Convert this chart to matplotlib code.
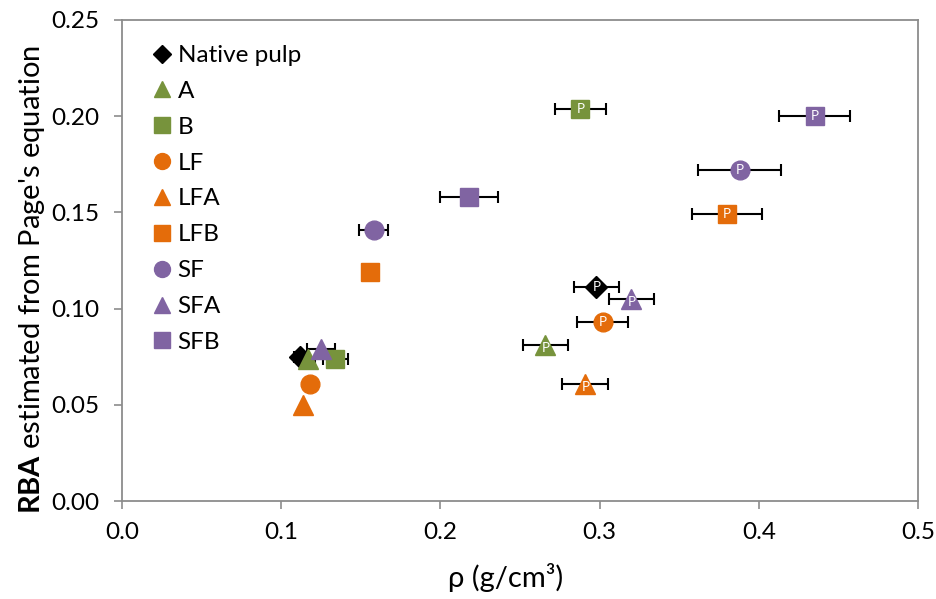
import matplotlib
matplotlib.use("Agg")
import matplotlib.pyplot as plt

plt.rcParams['font.family'] = ['Lato', 'DejaVu Sans']
plt.rcParams['mathtext.fontset'] = 'custom'
plt.rcParams['mathtext.bf'] = 'Lato:bold'
plt.rcParams['mathtext.rm'] = 'Lato'

series = ["Native pulp", "A", "B", "LF", "LFA", "LFB", "SF", "SFA", "SFB"]
colors = ["#000000", "#77933C", "#77933C", "#E46C0A", "#E46C0A", "#E46C0A", "#8064A2", "#8064A2", "#8064A2"]
markers = ["D", "^", "s", "o", "^", "s", "o", "^", "s"]

# unpressed samples
x_raw = [0.112, 0.117, 0.134, 0.118, 0.114, 0.156, 0.158, 0.125, 0.218]
y_raw = [0.075, 0.074, 0.074, 0.061, 0.050, 0.119, 0.141, 0.079, 0.158]
xerr_raw = [0.004, 0.004, 0.008, 0.0, 0.0, 0.0, 0.009, 0.009, 0.018]

# pressed samples (P)
x_p = [0.298, 0.266, 0.288, 0.302, 0.291, 0.380, 0.388, 0.320, 0.435]
y_p = [0.111, 0.081, 0.204, 0.093, 0.061, 0.149, 0.172, 0.105, 0.200]
xerr_p = [0.014, 0.014, 0.016, 0.016, 0.0145, 0.022, 0.026, 0.014, 0.022]

sizes = {"D": 11, "^": 14, "s": 13.5, "o": 13.5}

fig = plt.figure(figsize=(9.36, 5.99), dpi=100)
ax = fig.add_axes([122/936, 1-501/599, (918-122)/936, (501-20)/599])

order = [0, 1, 2, 3, 4, 5, 6, 8, 7]
for i in order:
    ms = sizes[markers[i]]
    if xerr_raw[i] > 0:
        ax.errorbar(x_raw[i], y_raw[i], xerr=xerr_raw[i], fmt='none', ecolor='black',
                    elinewidth=1.5, capsize=4, capthick=1.5, zorder=2)
    ax.plot(x_raw[i], y_raw[i], linestyle='none', marker=markers[i], color=colors[i],
            markersize=ms, markeredgecolor=colors[i], label=series[i], zorder=3)
for i in range(len(series)):
    ms = sizes[markers[i]]
    ax.errorbar(x_p[i], y_p[i], xerr=xerr_p[i], fmt='none', ecolor='black',
                elinewidth=1.5, capsize=4, capthick=1.5, zorder=2)
    ax.plot(x_p[i], y_p[i], linestyle='none', marker=markers[i], color=colors[i],
            markersize=ms, markeredgecolor=colors[i], zorder=3)
    dy = -0.0015 if markers[i] == "^" else 0
    ax.text(x_p[i], y_p[i] + dy, "P", color='white', fontsize=9.5, ha='center', va='center', zorder=4)

ax.set_xlim(0, 0.5)
ax.set_ylim(0, 0.25)
ax.set_xticks([0, 0.1, 0.2, 0.3, 0.4, 0.5])
ax.set_xticklabels(["0.0", "0.1", "0.2", "0.3", "0.4", "0.5"])
ax.set_yticks([0, 0.05, 0.10, 0.15, 0.20, 0.25])
ax.set_yticklabels(["0.00", "0.05", "0.10", "0.15", "0.20", "0.25"])
ax.tick_params(axis='both', direction='out', length=6, width=1.2, labelsize=17.5,
               colors='#8c8c8c', labelcolor='black')
ax.tick_params(axis='x', pad=9)
ax.tick_params(axis='y', pad=10)
for s in ax.spines.values():
    s.set_color('#8c8c8c')
    s.set_linewidth(1.3)

fig.text(506/936, 1-578/599, "ρ (g/cm³)", fontsize=21, color='black', ha='center', va='center')
fig.text(32/936, 1-280/599, r"$\mathbf{RBA}$ estimated from Page's equation", fontsize=21,
         color='black', ha='center', va='center', rotation=90)

handles, labels = ax.get_legend_handles_labels()
idx = [labels.index(s) for s in series]
leg = ax.legend([handles[k] for k in idx], [labels[k] for k in idx], loc='upper left',
                frameon=False, fontsize=17.5, handletextpad=0.0, labelspacing=0.61,
                markerscale=0.85, borderaxespad=0.0, handlelength=1.3,
                bbox_to_anchor=(0.018, 0.968))

fig.savefig("out.png", dpi=100)
